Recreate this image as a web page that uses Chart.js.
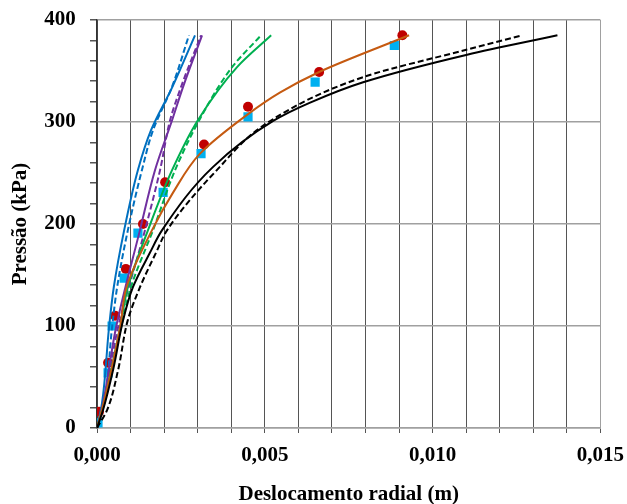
<!DOCTYPE html>
<html>
<head>
<meta charset="utf-8">
<script src="https://cdn.jsdelivr.net/npm/chart.js@4.4.1/dist/chart.umd.min.js"></script>
<style>
  html, body { margin: 0; padding: 0; background: #fff; }
  #wrap { width: 627px; height: 504px; }
</style>
</head>
<body>
<div id="wrap"><canvas id="chart" width="627" height="504"></canvas></div>
<script>
// pontos [deslocamento (m), pressão (kPa)]
const blueSolid = [[0,0],[0.00015,24.5],[0.00036,99],[0.0005,138],[0.00081,194],[0.00122,253],[0.00161,292],[0.00224,334],[0.00292,385]];
const blueDashed = [[0,0],[0.00021,24.5],[0.00045,99],[0.0006,138],[0.00092,194],[0.00134,253],[0.00167,292],[0.00223,334],[0.00274,385]];
const purpleSolid = [[0,0],[0.00018,24.5],[0.00057,99],[0.00128,194],[0.00173,253],[0.00224,302],[0.00256,334],[0.00313,385]];
const purpleDashed = [[0,0],[0.0002,24.5],[0.00063,99],[0.00143,194],[0.00188,253],[0.00218,302],[0.0025,334],[0.0031,385]];
const greenSolid = [[0,0],[0.0002,24.5],[0.00069,99],[0.00092,138],[0.00152,194],[0.00224,253],[0.00301,302],[0.00418,354],[0.00519,385]];
const greenDashed = [[0,0],[0.00022,24.5],[0.00072,99],[0.00101,138],[0.00167,194],[0.00233,253],[0.00305,302],[0.00403,354],[0.00489,385]];
const brownSolid = [[0,0],[0.0002,24.5],[0.00069,99],[0.00088,138],[0.00164,194],[0.00227,231],[0.00307,269],[0.00447,307],[0.00546,329],[0.00662,349],[0.0093,385]];
const blackSolid = [[0,0],[0.00018,17.6],[0.00048,57],[0.00078,106],[0.00107,138],[0.00158,172],[0.00194,194],[0.00346,256],[0.00525,301],[0.00635,319],[0.00793,339],[0.01103,366],[0.01372,385]];
const blackDashed = [[0,0],[0.0003,17.6],[0.00063,57],[0.00092,106],[0.00128,138],[0.00176,172],[0.00209,194],[0.00352,251],[0.00516,301],[0.00793,344],[0.01103,371],[0.01268,385]];
const redCircles = [[0.00006,16],[0.00033,64],[0.00054,110],[0.00086,156],[0.00137,200],[0.00203,241],[0.00319,278],[0.0045,315],[0.00662,349],[0.0091,385]];
const blueSquares = [[0.00003,5],[0.00033,54],[0.00045,100],[0.00081,147],[0.00122,191],[0.00197,231],[0.0031,269],[0.0045,305],[0.0065,339],[0.00886,375]];

const fontFam = "'Times New Roman', 'Liberation Serif', serif";

function toXY(arr) { return arr.map(p => ({x: p[0], y: p[1]})); }

// curvas "verticais": interpolação monotônica ao longo do eixo y
function line(data, color, dashed) {
  return {
    data: toXY(data),
    showLine: true,
    indexAxis: 'y',
    borderColor: color,
    backgroundColor: color,
    borderWidth: 2,
    borderDash: dashed ? [6, 3] : [],
    pointRadius: 0,
    cubicInterpolationMode: 'monotone',
    fill: false,
  };
}

const ctx = document.getElementById('chart').getContext('2d');
new Chart(ctx, {
  type: 'scatter',
  data: {
    datasets: [
      line(blackSolid, '#000000', false),
      line(blackDashed, '#000000', true),
      line(brownSolid, '#C55A11', false),
      line(greenSolid, '#00B050', false),
      line(greenDashed, '#00B050', true),
      line(purpleSolid, '#7030A0', false),
      line(purpleDashed, '#7030A0', true),
      line(blueSolid, '#0070C0', false),
      line(blueDashed, '#0070C0', true),
      {
        data: toXY(blueSquares),
        pointStyle: 'rect',
        pointRadius: 6.5,
        backgroundColor: '#00B0F0',
        borderColor: '#00B0F0',
        borderWidth: 0,
      },
      {
        data: toXY(redCircles),
        pointStyle: 'circle',
        pointRadius: 5,
        backgroundColor: '#C00000',
        borderColor: '#C00000',
        borderWidth: 0,
      },
    ]
  },
  options: {
    responsive: false,
    animation: false,
    layout: { padding: { top: 20, right: 0, left: 0, bottom: 0 } },
    plugins: {
      legend: { display: false },
      tooltip: { enabled: false },
    },
    scales: {
      x: {
        type: 'linear',
        min: 0,
        max: 0.015,
        afterFit: s => { s.height = 76; },
        ticks: {
          stepSize: 0.001,
          autoSkip: false,
          maxRotation: 0,
          color: '#000',
          padding: 3,
          font: { family: fontFam, size: 21, weight: 'bold', lineHeight: 1.85 },
          callback: v => (Math.round(v * 1000) % 5 === 0) ? v.toFixed(3).replace('.', ',') : '',
        },
        grid: {
          color: c => (c.tick && Math.round(c.tick.value * 1000) === 15) ? '#a0a0a0' : '#555555',
          lineWidth: 1,
          tickLength: 5,
          tickColor: '#555555',
        },
        border: { color: '#a0a0a0', width: 1.5 },
        title: {
          display: true,
          text: 'Deslocamento radial (m)',
          color: '#000',
          padding: { top: 0, bottom: -3 },
          font: { family: fontFam, size: 21, weight: 'bold' },
        },
      },
      y: {
        type: 'linear',
        min: 0,
        max: 400,
        afterFit: s => { s.width = 97; },
        ticks: {
          stepSize: 20,
          autoSkip: false,
          color: '#000',
          padding: 9,
          font: { family: fontFam, size: 21, weight: 'bold', lineHeight: 1.0 },
          callback: v => (v % 100 === 0) ? v + '\u2005' : '',
        },
        grid: {
          color: c => (c.tick && c.tick.value % 100 === 0) ? '#a0a0a0' : 'rgba(0,0,0,0)',
          lineWidth: 1.5,
          tickLength: 7,
          tickColor: '#555555',
        },
        border: { color: '#333333', width: 1.5 },
        title: {
          display: true,
          text: 'Pressão (kPa)',
          color: '#000',
          padding: { top: 8, bottom: 0 },
          font: { family: fontFam, size: 21, weight: 'bold' },
        },
      },
    },
  },
});
</script>
</body>
</html>
